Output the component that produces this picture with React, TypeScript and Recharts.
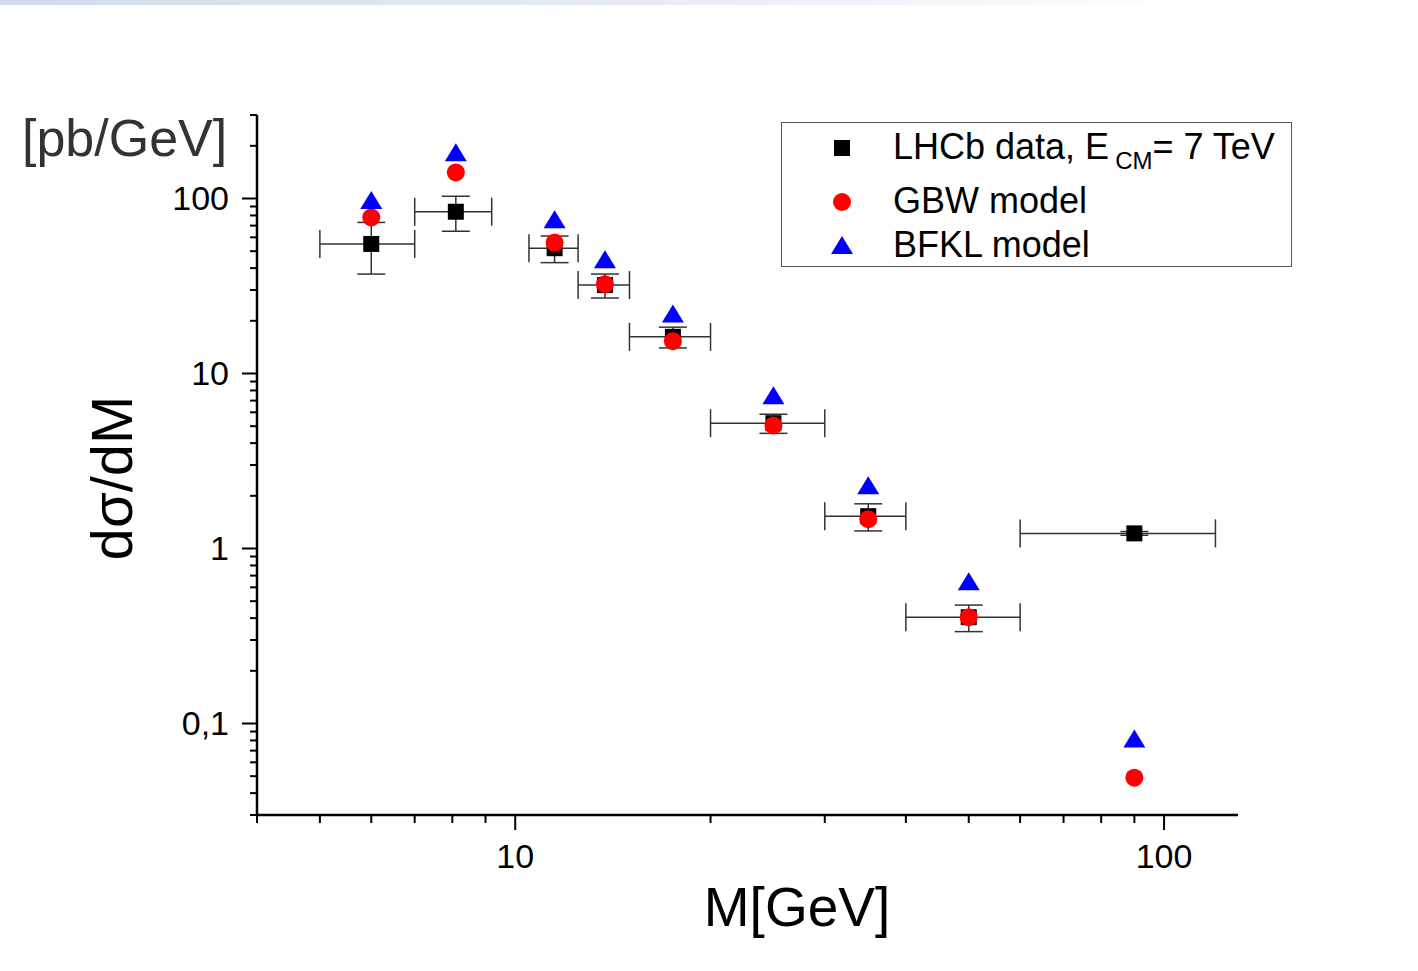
import { ScatterChart, Scatter, XAxis, YAxis, ErrorBar } from "recharts";

// bin centres and half-widths, M in GeV
const masses = [6, 8.1, 11.5, 13.75, 17.5, 25, 35, 50, 90];
const massErr = [1, 1.1, 1, 1.25, 2.5, 5, 5, 10, 30];

// dsigma/dM in pb/GeV
const lhcbValues = [55, 84, 52, 32, 16.2, 5.2, 1.53, 0.405, 1.22];
const lhcbErr = [18, 19, 9, 5, 2.2, 0.65, 0.27, 0.07, 0.03];
const gbwValues = [78, 141, 56, 32.4, 15.3, 5.05, 1.47, 0.405, 0.049];
const bfklValues = [98, 184, 76, 45, 22, 7.5, 2.3, 0.65, 0.082];

const xTicks = [4, 5, 6, 7, 8, 9, 10, 20, 30, 40, 50, 60, 70, 80, 90, 100];
const xMajor = [10, 100];
const yTicks = [
  0.03, 0.04, 0.05, 0.06, 0.07, 0.08, 0.09, 0.1,
  0.2, 0.3, 0.4, 0.5, 0.6, 0.7, 0.8, 0.9, 1,
  2, 3, 4, 5, 6, 7, 8, 9, 10,
  20, 30, 40, 50, 60, 70, 80, 90, 100, 200, 300,
];
const yMajor = [0.1, 1, 10, 100];

const FONT = "'Liberation Sans', Arial, Helvetica, sans-serif";

const lhcbData = masses.map((m, i) => ({ m, v: lhcbValues[i], ex: massErr[i], ey: lhcbErr[i] }));
const gbwData = masses.map((m, i) => ({ m, v: gbwValues[i] }));
const bfklData = masses.map((m, i) => ({ m, v: bfklValues[i] }));

const fmtY = (v: number) => (v < 1 ? String(v).replace(".", ",") : String(v));

const XTick = (props: any) => {
  const { x, y, payload } = props;
  const major = xMajor.includes(payload.value);
  return (
    <g>
      <line x1={x} x2={x} y1={y} y2={y + (major ? 15 : 8)} stroke="#000" strokeWidth={2} />
      {major && (
        <text x={x} y={y + 53} textAnchor="middle" fontSize={34} fontFamily={FONT} fill="#000">
          {payload.value}
        </text>
      )}
    </g>
  );
};

const YTick = (props: any) => {
  const { x, y, payload } = props;
  const major = yMajor.includes(payload.value);
  return (
    <g>
      <line x1={x} x2={x - (major ? 15 : 7)} y1={y} y2={y} stroke="#000" strokeWidth={2} />
      {major && (
        <text x={x - 28} y={y + 12} textAnchor="end" fontSize={34} fontFamily={FONT} fill="#000">
          {fmtY(payload.value)}
        </text>
      )}
    </g>
  );
};

const Square = (p: any) => <rect x={p.cx - 8} y={p.cy - 8} width={16} height={16} fill="#000" />;
const Dot = (p: any) => <circle cx={p.cx} cy={p.cy} r={9} fill="#ff0000" />;
const Tri = (p: any) => (
  <polygon
    points={`${p.cx - 11},${p.cy + 9} ${p.cx + 11},${p.cy + 9} ${p.cx},${p.cy - 9}`}
    fill="#0000ff"
  />
);

export default function App() {
  return (
    <div style={{ position: "absolute", left: 0, top: 0, width: 1418, height: 971, background: "#fff" }}>
      <div
        style={{
          position: "absolute",
          left: 0,
          top: 0,
          width: 1418,
          height: 5,
          background: "linear-gradient(to right, #d2daec, #e6ebf6 45%, #ffffff 85%)",
        }}
      />
      <ScatterChart width={1418} height={971} margin={{ top: 115, right: 180, left: 0, bottom: 0 }}>
        <XAxis
          type="number"
          dataKey="m"
          scale="log"
          domain={[4, 130]}
          allowDataOverflow
          ticks={xTicks}
          interval={0}
          tick={<XTick />}
          tickLine={false}
          tickSize={0}
          tickMargin={0}
          height={156}
          axisLine={{ stroke: "#000", strokeWidth: 2.5 }}
          label={{
            content: () => (
              <text x={797} y={926} textAnchor="middle" fontSize={55} fontFamily={FONT} fill="#000">
                M[GeV]
              </text>
            ),
          }}
        />
        <YAxis
          type="number"
          dataKey="v"
          scale="log"
          domain={[0.03, 300]}
          allowDataOverflow
          ticks={yTicks}
          interval={0}
          tick={<YTick />}
          tickLine={false}
          tickSize={0}
          tickMargin={0}
          width={257}
          axisLine={{ stroke: "#000", strokeWidth: 2.5 }}
          label={{
            content: () => (
              <g>
                <text
                  x={132}
                  y={478}
                  transform="rotate(-90, 132, 478)"
                  textAnchor="middle"
                  fontSize={58}
                  fontFamily={FONT}
                  fill="#000"
                >
                  dσ/dM
                </text>
                <text x={22} y={156} fontSize={52} fontFamily={FONT} fill="#333">
                  [pb/GeV]
                </text>
              </g>
            ),
          }}
        />
        <Scatter name="LHCb data" data={lhcbData} shape={<Square />} isAnimationActive={false}>
          <ErrorBar dataKey="ex" direction="x" width={14} stroke="#333" strokeWidth={1.5} isAnimationActive={false} />
          <ErrorBar dataKey="ey" direction="y" width={14} stroke="#333" strokeWidth={1.5} isAnimationActive={false} />
        </Scatter>
        <Scatter name="GBW model" data={gbwData} shape={<Dot />} isAnimationActive={false} />
        <Scatter name="BFKL model" data={bfklData} shape={<Tri />} isAnimationActive={false} />
      </ScatterChart>
      <div
        style={{
          position: "absolute",
          left: 781,
          top: 122,
          width: 509,
          height: 143,
          border: "1.5px solid #555",
          fontFamily: FONT,
          fontSize: 36,
          color: "#000",
        }}
      >
        <svg width={40} height={140} style={{ position: "absolute", left: 40, top: 0 }}>
          <rect x={12} y={17} width={16} height={16} fill="#000" />
          <circle cx={20} cy={79} r={9} fill="#ff0000" />
          <polygon points="9,131 31,131 20,113" fill="#0000ff" />
        </svg>
        <div style={{ position: "absolute", left: 111, top: 4, whiteSpace: "nowrap", lineHeight: "40px" }}>
          LHCb data, E
          <span style={{ fontSize: 24, position: "relative", top: 10, marginLeft: 6 }}>CM</span>= 7 TeV
        </div>
        <div style={{ position: "absolute", left: 111, top: 58, whiteSpace: "nowrap", lineHeight: "40px" }}>
          GBW model
        </div>
        <div style={{ position: "absolute", left: 111, top: 102, whiteSpace: "nowrap", lineHeight: "40px" }}>
          BFKL model
        </div>
      </div>
    </div>
  );
}
